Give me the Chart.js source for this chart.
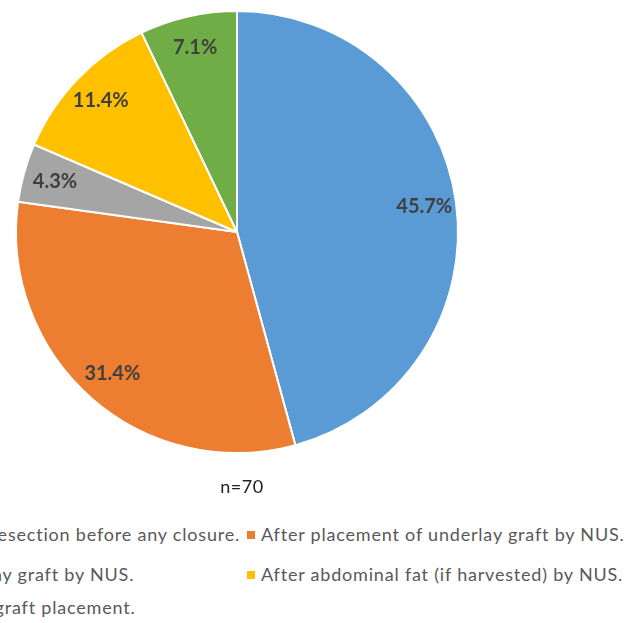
<!DOCTYPE html>
<html><head><meta charset="utf-8">
<script src="https://cdn.jsdelivr.net/npm/chart.js@4"></script>
<style>
html,body{margin:0;padding:0;background:#fff;overflow:hidden;width:637px;height:623px;}
#wrap{position:absolute;left:-13px;top:0;width:500px;height:500px;}
#note{position:absolute;left:190px;width:104px;top:475px;text-align:center;font:18px Lato, "Open Sans", sans-serif;letter-spacing:0.5px;color:#222;}
.lg{position:absolute;font:18px Lato, "Open Sans", sans-serif;letter-spacing:0.8px;color:#595959;white-space:nowrap;}
.lg i{display:inline-block;width:8px;height:8px;margin-right:6px;vertical-align:2px;}
</style></head><body>
<div id="wrap"><canvas id="c" width="500" height="500"></canvas></div>
<div id="note"></div>
<div id="legend"></div>
<script>
const labels = [
  "After complete tumor resection before any closure.",
  "After placement of underlay graft by NUS.",
  "After placement of onlay graft by NUS.",
  "After abdominal fat (if harvested) by NUS.",
  "After a nasal flap over graft placement."
];
const values = [45.7, 31.4, 4.3, 11.4, 7.1];
const colors = ["#5B9BD5", "#ED7D31", "#A5A5A5", "#FFC000", "#70AD47"];
const noteText = "n=70";
document.getElementById('note').textContent = noteText;

const labelPlugin = {
  id: 'pctLabels',
  afterDatasetsDraw(chart) {
    const ctx = chart.ctx;
    const meta = chart.getDatasetMeta(0);
    ctx.save();
    ctx.font = "bold 20px Lato, 'Open Sans', sans-serif";
    ctx.fillStyle = "#404040";
    ctx.textAlign = "center";
    ctx.textBaseline = "middle";
    meta.data.forEach((arc, i) => {
      const mid = (arc.startAngle + arc.endAngle) / 2;
      const r = arc.outerRadius * 0.855;
      ctx.fillText(values[i].toFixed(1) + "%", arc.x + Math.cos(mid) * r, arc.y + Math.sin(mid) * r);
    });
    ctx.restore();
  }
};

new Chart(document.getElementById('c'), {
  type: 'pie',
  data: { labels: labels, datasets: [{ data: values, backgroundColor: colors, borderColor: '#fff', borderWidth: 2 }] },
  options: {
    responsive: false, animation: false,
    layout: { padding: { top: 10, left: 28, right: 28, bottom: 46 } },
    plugins: { legend: { display: false }, tooltip: { enabled: false } }
  },
  plugins: [labelPlugin]
});

// HTML legend in a two-column grid (cropped on the left like the reference)
const leg = document.getElementById('legend');
const rowsY = [523, 563, 596];
const col2X = 247;
const items = [];
labels.forEach((t, i) => {
  const d = document.createElement('div');
  d.className = 'lg';
  d.innerHTML = '<i style="background:' + colors[i] + '"></i>' + t;
  leg.appendChild(d);
  items.push(d);
});
const w0 = items[0].offsetWidth;
const col1X = 240 - w0;
const layout = [[0, 0], [1, 0], [0, 1], [1, 1], [0, 2]];
layout.forEach(([col, row], i) => {
  items[i].style.left = (col === 0 ? col1X : col2X) + 'px';
  items[i].style.top = rowsY[row] + 'px';
});
</script>
</body></html>
